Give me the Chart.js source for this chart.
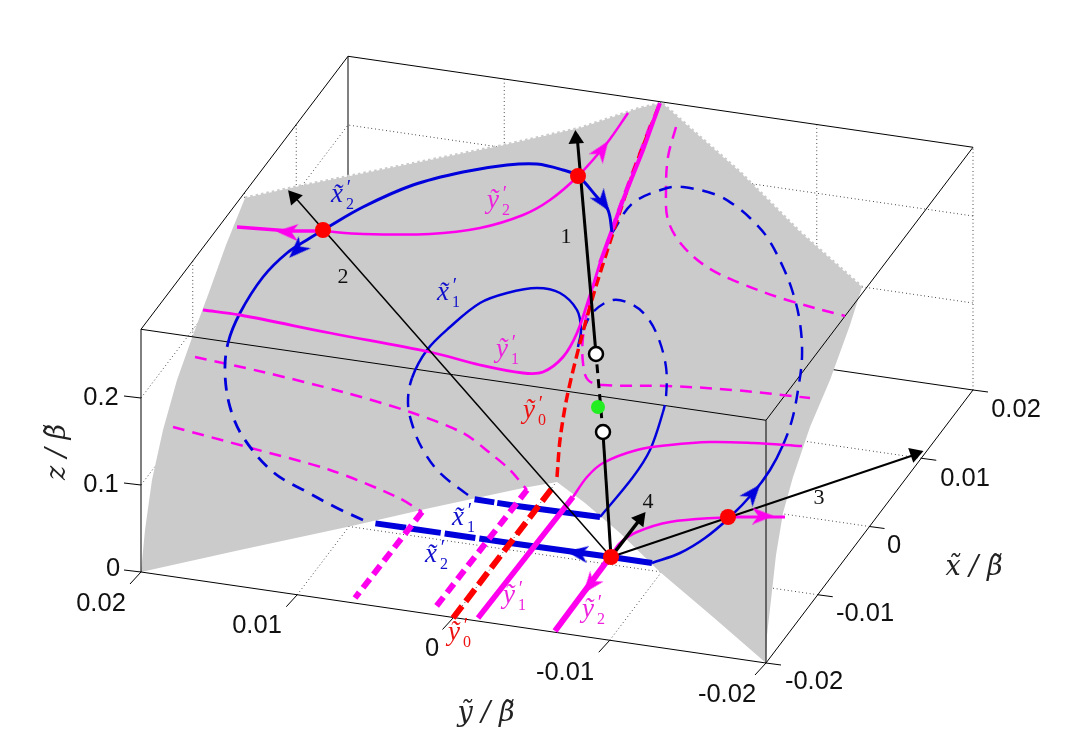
<!DOCTYPE html>
<html>
<head>
<meta charset="utf-8">
<title>chart</title>
<script src="https://cdn.jsdelivr.net/npm/chart.js@4/dist/chart.umd.min.js"></script>
<style>
  html, body { margin: 0; padding: 0; background: #fff; }
  canvas { display: block; }
</style>
</head>
<body>
<canvas id="myChart" width="1076" height="744"></canvas>
<script>
// axis values
var xTicks = [-0.02, -0.01, 0, 0.01, 0.02];
var yTicks = [-0.02, -0.01, 0, 0.01, 0.02];
var zTicks = [0, 0.1, 0.2];
var zTop = 0.279;
var xTickLabels = ['-0.02', '-0.01', '0', '0.01', '0.02'];
var yTickLabels = ['-0.02', '-0.01', '0', '0.01', '0.02'];
var zTickLabels = ['0', '0.1', '0.2'];

var surface = [[245,198],[300,186],[400,166],[500,146],[580,128],[610,118],[640,108],[662,103],[690,128],[740,172],[800,232],[862,287],[850,325],[830,380],[810,427],[793,477],[783,513],[776,555],[771,600],[767,635],[766,663],[713,617],[660,572],[620,533],[585,503],[557,482],[523,488],[430,508],[347,527],[240,550],[141,572],[145,530],[152,480],[163,430],[177,380],[193,335],[208,295],[226,245],[245,198]];
var surfaceTopEdge = [[245,198],[300,186],[400,166],[500,146],[580,128],[610,118],[640,108],[662,103],[690,128],[740,172],[800,232],[862,287]];

var blueTop = [[323,230],[363,207],[413,185],[463,172],[507,165],[537,164],[563,170],[578,176],[597,197],[608,210],[612,232]];
var blueLoopDashed = [[612,233],[633,203],[667,188],[683,187],[717,195],[737,207],[750,218],[767,237],[783,267],[793,293],[800,323],[802,357],[798,390],[792,420],[783,445]];
var blueLoopSolid = [[783,445],[770,470],[753,493],[730,517],[705,538],[680,553],[652,563]];
var blueFloor2Solid = [[652,563],[611,557],[510,543]];
var blueFloor2Dashed = [[510,543],[373,523]];
var blueLeftDashed = [[363,520],[337,508],[307,492],[273,472],[243,437],[230,407],[225,373],[228,343]];
var blueLeftSolid = [[228,343],[240,313],[263,277],[287,253],[310,238],[323,230]];
var blueInnerSolid = [[412,378],[427,350],[450,327],[480,303],[507,293],[537,288],[560,293],[577,310],[581,330],[578,347]];
var blueInnerDashed = [[583,330],[593,312],[613,300],[633,305],[647,317],[658,337],[666,367],[666,397],[663,412]];
var blueInnerLower = [[663,412],[650,450],[633,477],[600,517]];
var blueFloor1Solid = [[600,517],[517,506]];
var blueFloor1Dashed = [[517,506],[473,499]];
var blueInnerLeftDashed = [[468,495],[440,473],[423,450],[413,427],[408,403],[412,378]];

var magentaTopThick = [[237,227],[290,231],[323,231]];
var magentaTop = [[323,231],[363,234],[430,234],[480,228],[523,215],[550,200],[578,176],[607,143],[628,113]];
var magentaMiddle = [[203,310],[240,315],[330,333],[430,352],[480,365],[523,373],[543,372],[563,357],[577,333],[590,295],[600,263]];
var magentaUp = [[600,263],[623,200],[643,150],[660,103]];
var magentaFloor1 = [[478,618],[573,497]];
var magentaRight1 = [[573,497],[587,477],[603,463],[637,450],[670,445],[710,442],[753,443],[802,446]];
var magentaFloor2 = [[555,631],[610,557]];
var magentaRight2 = [[610,557],[620,543],[637,532],[670,522],[728,517]];
var magentaRight2End = [[728,517],[785,517]];
var magentaDashA = [[676,127],[668,157],[666,190],[668,220],[682,245],[707,267],[740,283],[787,300],[845,316]];
var magentaDashB = [[650,125],[613,225],[590,300],[583,337],[583,363],[588,380],[603,385],[667,386],[733,390],[810,398]];
var magentaDashC = [[195,357],[263,372],[343,392],[410,412],[463,433],[490,453],[510,470],[527,490]];
var magentaDashD = [[173,427],[247,447],[330,470],[397,497],[422,512]];
var magentaFloorDashC = [[527,490],[435,608]];
var magentaFloorDashD = [[422,512],[355,598]];

var redDashed = [[557,477],[560,440],[567,397],[580,343],[597,283],[633,173],[660,103]];
var redFloor = [[453,618],[553,487]];

var arrow1Solid = [[611,557],[603,433]];
var arrow1Dashed = [[603,433],[596,354]];
var arrow1Upper = [[596,354],[577,135]];
var arrow2 = [[611,557],[293,195]];
var arrow3 = [[611,557],[917,454]];
var arrow4 = [[611,557],[641,518]];

var headsBlack = [[576,139,-4],[294,197,-41],[915,454,71],[640,519,38]];
var headsMagenta = [[602,150,35],[287,232,-87],[763,516,90],[590,585,218]];
var headsBlue = [[297,250,225],[603,202,145],[753,493,40],[577,553,-82]];
var redPoints = [[323,230],[578,176],[728,517],[611,557]];
var greenPoints = [[598,407]];
var whitePoints = [[596,354],[603,432]];

var labelLetters = ['x\u0303','y\u0303','x\u0303','y\u0303','y\u0303','x\u0303','x\u0303','y\u0303','y\u0303','y\u0303'];
var labelSubs = ['2','2','1','1','0','1','2','1','2','0'];
var labelSpots = [[341,197],[497,203],[447,295],[506,352],[533,413],[462,520],[435,557],[513,598],[592,612],[458,635]];
var labelColors = ['#1111cc','#ee22dd','#1111cc','#ee22dd','#ee1111','#1111cc','#1111cc','#ee22dd','#ee22dd','#ee1111'];
var arrowNames = ['1','2','3','4'];
var arrowNameSpots = [[566,237],[343,277],[819,498],[648,502]];

var xTickSpots = [[814,682],[865,614],[894,546],[965,479],[1016,410]];
var yTickSpots = [[727,695],[565,673],[432,649],[257,626],[101,604]];
var zTickSpots = [[113,569],[101,485],[101,398]];

// view of the 3D box on the plane
function proj(x, y, z) {
  return [
    766 + (x + 0.02) * 5175 - (y + 0.02) * 15625,
    663 - (x + 0.02) * 6825 - (y + 0.02) * 2275 - z * 870
  ];
}

var datasets = [];

function toXY(list) {
  return list.map(function (p) { return { x: p[0], y: p[1] }; });
}

function addLine(list, color, width, dash, tension) {
  datasets.push({
    data: toXY(list),
    showLine: true,
    borderColor: color,
    borderWidth: width,
    borderDash: dash || [],
    tension: tension || 0,
    pointRadius: 0,
    fill: false,
    borderCapStyle: 'butt'
  });
}

// one smooth curve, dashed first and solid after, or the other way round
function addHalfDashed(first, second, firstDashed, color, width, dash, tension) {
  var split = first.length - 1;
  addLine(first.concat(second.slice(1)), color, width, [], tension);
  datasets[datasets.length - 1].segment = {
    borderDash: function (c) {
      return (c.p0DataIndex < split) === firstDashed ? dash : [];
    }
  };
}

function stealth(color, w, h) {
  var c = document.createElement('canvas');
  c.width = w;
  c.height = h;
  var g = c.getContext('2d');
  g.fillStyle = color;
  g.beginPath();
  g.moveTo(w / 2, 0);
  g.lineTo(w, h);
  g.lineTo(w / 2, h * 0.72);
  g.lineTo(0, h);
  g.closePath();
  g.fill();
  return c;
}

function addPoints(list, color, radius, style, border, borderWidth) {
  datasets.push({
    data: toXY(list),
    showLine: false,
    pointStyle: style || 'circle',
    pointRadius: radius,
    pointRotation: list.map(function (p) { return p[2] || 0; }),
    pointBackgroundColor: color,
    pointBorderColor: border || color,
    pointBorderWidth: borderWidth || 0
  });
}

var grid = [0.7, 3];
var xMin = xTicks[0], xMax = xTicks[4], yMin = yTicks[0], yMax = yTicks[4];

// back walls and floor grid go under the surface
zTicks.slice(1).forEach(function (z) {
  addLine([proj(xMin, yMax, z), proj(xMax, yMax, z), proj(xMax, yMin, z)], '#000', 1, grid);
});
xTicks.slice(1, 4).forEach(function (x) {
  addLine([proj(x, yMin, 0), proj(x, yMax, 0), proj(x, yMax, zTop)], '#000', 1, grid);
});
yTicks.slice(1, 4).forEach(function (y) {
  addLine([proj(xMin, y, 0), proj(xMax, y, 0), proj(xMax, y, zTop)], '#000', 1, grid);
});
addLine([proj(xMax, yMin, 0), proj(xMax, yMin, zTop)], '#000', 1, grid);
addLine([proj(xMax, yMax, 0), proj(xMax, yMax, zTop)], '#000', 1);
addLine([proj(xMin, yMax, 0), proj(xMax, yMax, 0), proj(xMax, yMin, 0)], '#000', 1);
addLine([proj(xMin, yMax, zTop), proj(xMax, yMax, zTop), proj(xMax, yMin, zTop)], '#000', 1);

datasets.push({
  data: toXY(surface),
  showLine: true,
  borderWidth: 0,
  borderColor: 'rgba(0,0,0,0)',
  backgroundColor: '#cbcbcb',
  fill: 'shape',
  pointRadius: 0,
  tension: 0
});
// toothed rim of the sampled surface
addLine(surfaceTopEdge, '#cbcbcb', 3, [2.5, 3]);

// box edges in front of the surface
addLine([proj(xMin, yMax, zTop), proj(xMin, yMin, zTop), proj(xMax, yMin, zTop)], '#000', 1);
addLine([proj(xMin, yMax, 0), proj(xMin, yMax, zTop)], '#000', 1);
addLine([proj(xMin, yMin, 0), proj(xMin, yMin, zTop)], '#000', 1);
addLine([proj(xMin, yMax, 0), proj(xMin, yMin, 0), proj(xMax, yMin, 0)], '#000', 1);

// tick marks
xTicks.forEach(function (x) {
  var p = proj(x, yMin, 0);
  addLine([p, [p[0] + 15, p[1] + 2]], '#000', 1);
});
yTicks.forEach(function (y) {
  var p = proj(xMin, y, 0);
  addLine([p, [p[0] - 11, p[1] + 12]], '#000', 1);
});
zTicks.forEach(function (z) {
  var p = proj(xMin, yMax, z);
  addLine([p, [p[0] - 17, p[1] - 2]], '#000', 1);
});

var blue = '#0000dd', magenta = '#ff00ee', red = '#ff0000';
var thinDash = [12, 8], floorDash = [11, 6], blueDash = [13, 9];

addLine(magentaDashA, magenta, 2.5, thinDash, 0.35);
addLine(magentaDashB, magenta, 2.5, thinDash, 0.35);
addLine(magentaDashC, magenta, 2.5, thinDash, 0.3);
addLine(magentaDashD, magenta, 2.5, thinDash, 0.3);
addHalfDashed(blueLoopDashed, blueLoopSolid, true, blue, 2.5, blueDash, 0.35);
addHalfDashed(blueLeftDashed, blueLeftSolid, true, blue, 2.8, blueDash, 0.35);
addHalfDashed(blueInnerDashed, blueInnerLower, true, blue, 2.4, blueDash, 0.35);
addHalfDashed(blueInnerLeftDashed, blueInnerSolid, true, blue, 2.5, blueDash, 0.35);
addLine(redDashed, red, 3.5, [10, 5], 0.3);
addLine(magentaUp, magenta, 4, [], 0);
addLine(magentaMiddle, magenta, 2.8, [], 0.35);
addLine(magentaTop, magenta, 2.5, [], 0.35);
addLine(magentaTopThick, magenta, 3.5, [], 0);
addLine(magentaRight1, magenta, 2.5, [], 0.35);
addLine(magentaRight2, magenta, 2.5, [], 0.35);
addLine(magentaRight2End, magenta, 3, [], 0);
addLine(blueTop, blue, 3, [], 0.35);
addLine(blueFloor1Solid, blue, 6, [], 0);
addLine(blueFloor1Dashed, blue, 6, [20, 3], 0);
addLine(blueFloor2Solid, blue, 6, [], 0);
addLine(blueFloor2Dashed, blue, 6, [31, 4], 0);
addLine(magentaFloorDashC, magenta, 6, floorDash, 0);
addLine(magentaFloorDashD, magenta, 6, floorDash, 0);
addLine(redFloor, red, 6, [15, 6], 0);
addLine(magentaFloor1, magenta, 5.5, [], 0);
addLine(magentaFloor2, magenta, 6, [], 0);

addLine(arrow2, '#000', 1.5);
addLine(arrow3, '#000', 2);
addLine(arrow4, '#000', 3.5);
addLine(arrow1Solid, '#000', 3);
addLine(arrow1Dashed, '#000', 3, [9, 6]);
addLine(arrow1Upper, '#000', 3);

addPoints(headsBlack, '#000', 9, 'triangle');
addPoints(headsMagenta, magenta, 10, stealth(magenta, 17, 22));
addPoints(headsBlue, blue, 10, stealth(blue, 17, 22));
addPoints(redPoints, red, 8);
addPoints(greenPoints, '#22ee22', 7);
addPoints(whitePoints, '#fff', 7, 'circle', '#000', 2.5);

// lower order is drawn later, keep the array order as paint order
datasets.forEach(function (d, i) {
  d.order = -i;
  d.clip = false;
});

function put(ctx, text, x, y, font, color, angle) {
  ctx.save();
  ctx.translate(x, y);
  ctx.rotate((angle || 0) * Math.PI / 180);
  ctx.font = font;
  ctx.fillStyle = color;
  ctx.textAlign = 'center';
  ctx.textBaseline = 'middle';
  ctx.fillText(text, 0, 0);
  ctx.restore();
}

var textPlugin = {
  id: 'figureText',
  afterDatasetsDraw: function (chart) {
    var ctx = chart.ctx;
    var sx = chart.scales.x, sy = chart.scales.y;
    var tickFont = '25.5px "Liberation Sans"';
    var mathFont = 'italic 27px "Liberation Serif"';
    var titleFont = 'italic 27px "DejaVu Serif"';

    function at(spot, text, font, color, angle) {
      put(ctx, text, sx.getPixelForValue(spot[0]), sy.getPixelForValue(spot[1]), font, color, angle);
    }

    xTickSpots.forEach(function (s, i) { at(s, xTickLabels[i], tickFont, '#111'); });
    yTickSpots.forEach(function (s, i) { at(s, yTickLabels[i], tickFont, '#111'); });
    zTickSpots.forEach(function (s, i) { at(s, zTickLabels[i], tickFont, '#111'); });

    at([58, 452], 'z / \u03b2\u0303', titleFont, '#222', -90);
    at([974, 568], 'x\u0303 / \u03b2\u0303', titleFont, '#222');
    at([486, 714], 'y\u0303 / \u03b2\u0303', titleFont, '#222');

    labelSpots.forEach(function (s, i) {
      at([s[0] - 4, s[1] - 2], labelLetters[i], mathFont, labelColors[i]);
      at([s[0] + 8, s[1] - 8], '\u2032', '20px "Liberation Serif"', labelColors[i]);
      at([s[0] + 9, s[1] + 8], labelSubs[i], '16px "Liberation Serif"', labelColors[i]);
    });
    arrowNameSpots.forEach(function (s, i) {
      at(s, arrowNames[i], '22px "Liberation Serif"', '#111');
    });
  }
};

var ctx = document.getElementById('myChart');
var myChart = new Chart(ctx, {
  type: 'scatter',
  data: { datasets: datasets },
  options: {
    responsive: false,
    animation: false,
    events: [],
    layout: { padding: 0, autoPadding: false },
    plugins: { legend: { display: false }, tooltip: { enabled: false } },
    scales: {
      x: { type: 'linear', display: false, min: 0, max: 1076 },
      y: { type: 'linear', display: false, min: 0, max: 744, reverse: true }
    }
  },
  plugins: [textPlugin]
});
</script>
</body>
</html>
